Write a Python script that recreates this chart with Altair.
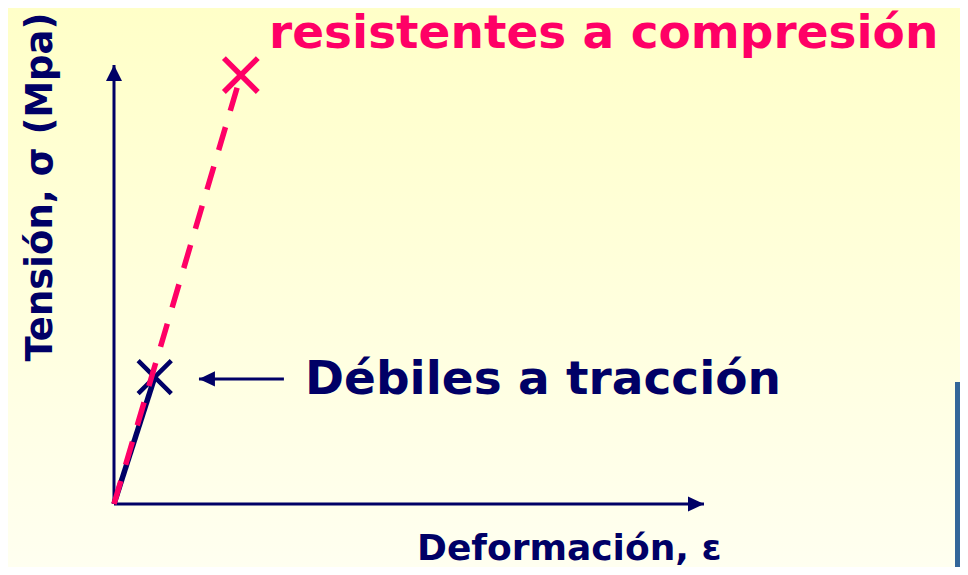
import altair as alt
import pandas as pd

# ---- data ----
# strain / stress in arbitrary units (x: 0..10, y: 0..10)
axis_names = ["x", "y"]
axis_end_x = [10.0, 0.0]
axis_end_y = [0.0, 10.0]

tension_x = [0.0, 0.69]
tension_y = [0.0, 2.89]
compression_x = [0.0, 2.15]
compression_y = [0.0, 9.77]

note_x_start = [2.88]
note_x_tip = [1.44]
note_y = [2.85]

title_text = "resistentes a compresión"
note_text = "Débiles a tracción"
y_title = "Tensión, σ (Mpa)"
x_title = "Deformación, ε"

NAVY = "#000066"
PINK = "#FF0066"

W, H = 952, 559
xs = alt.Scale(domain=[0, 10], range=[106, 696])
ys = alt.Scale(domain=[0, 10], range=[496, 57])

one = pd.DataFrame({"k": [0]})

bg = alt.Chart(one).mark_rect(
    fill=alt.Gradient(
        gradient="linear",
        stops=[alt.GradientStop(color="#FFFFC8", offset=0),
               alt.GradientStop(color="#FFFFF0", offset=1)],
        x1=0, x2=0, y1=0, y2=1,
    )
).encode(x=alt.value(0), x2=alt.value(W), y=alt.value(0), y2=alt.value(H))

axes_df = pd.DataFrame({"axis": axis_names, "x0": [0, 0], "y0": [0, 0],
                        "x1": axis_end_x, "y1": axis_end_y})
axes = alt.Chart(axes_df).mark_rule(color=NAVY, strokeWidth=3).encode(
    x=alt.X("x0:Q", scale=xs, axis=None),
    y=alt.Y("y0:Q", scale=ys, axis=None),
    x2="x1:Q", y2="y1:Q",
)

head_x = alt.Chart(axes_df[axes_df.axis == "x"]).mark_point(
    shape="M0,0L-2,-0.95L-2,0.95Z", size=256, filled=True, fill=NAVY, opacity=1, strokeWidth=0
).encode(x=alt.X("x1:Q", scale=xs), y=alt.Y("y1:Q", scale=ys))

head_y = alt.Chart(axes_df[axes_df.axis == "y"]).mark_point(
    shape="M0,0L-1,2L1,2Z", size=256, filled=True, fill=NAVY, opacity=1, strokeWidth=0
).encode(x=alt.X("x1:Q", scale=xs), y=alt.Y("y1:Q", scale=ys))

ten_df = pd.DataFrame({"x": tension_x, "y": tension_y})
comp_df = pd.DataFrame({"x": compression_x, "y": compression_y})

ten_line = alt.Chart(ten_df).mark_line(color=NAVY, strokeWidth=5.5).encode(
    x=alt.X("x:Q", scale=xs), y=alt.Y("y:Q", scale=ys))
ten_mark = alt.Chart(ten_df.iloc[[1]]).mark_point(
    shape="M-1,-1L1,1M1,-1L-1,1", size=1100, filled=False, stroke=NAVY,
    strokeWidth=4.5, opacity=1
).encode(x=alt.X("x:Q", scale=xs), y=alt.Y("y:Q", scale=ys))

comp_line = alt.Chart(comp_df).mark_line(color=PINK, strokeWidth=5.5, strokeDash=[24, 17]).encode(
    x=alt.X("x:Q", scale=xs), y=alt.Y("y:Q", scale=ys))
comp_mark = alt.Chart(comp_df.iloc[[1]]).mark_point(
    shape="M-1,-1L1,1M1,-1L-1,1", size=1150, filled=False, stroke=PINK,
    strokeWidth=5.5, opacity=1
).encode(x=alt.X("x:Q", scale=xs), y=alt.Y("y:Q", scale=ys))

note_df = pd.DataFrame({"xs": note_x_start, "xt": note_x_tip, "y": note_y})
note_line = alt.Chart(note_df).mark_rule(color=NAVY, strokeWidth=3).encode(
    x=alt.X("xs:Q", scale=xs), x2="xt:Q", y=alt.Y("y:Q", scale=ys))
note_head = alt.Chart(note_df).mark_point(
    shape="M0,0L2,-0.95L2,0.95Z", size=256, filled=True, fill=NAVY, opacity=1, strokeWidth=0
).encode(x=alt.X("xt:Q", scale=xs), y=alt.Y("y:Q", scale=ys))

FONT = "DejaVu Sans"
title = alt.Chart(one).mark_text(
    text=title_text, font=FONT, fontWeight="bold", fontSize=47, color=PINK,
    align="left", baseline="alphabetic"
).encode(x=alt.value(261), y=alt.value(40))

note = alt.Chart(one).mark_text(
    text=note_text, font=FONT, fontWeight="bold", fontSize=47, color=NAVY,
    align="left", baseline="alphabetic"
).encode(x=alt.value(297), y=alt.value(386))

ytitle = alt.Chart(one).mark_text(
    text=y_title, font=FONT, fontWeight="bold", fontSize=37, color=NAVY,
    align="center", baseline="alphabetic", angle=270
).encode(x=alt.value(44), y=alt.value(179))

xtitle = alt.Chart(one).mark_text(
    text=x_title, font=FONT, fontWeight="bold", fontSize=36, color=NAVY,
    align="left", baseline="alphabetic"
).encode(x=alt.value(409), y=alt.value(552))

bar = alt.Chart(one).mark_rect(color="#336699").encode(
    x=alt.value(947), x2=alt.value(952), y=alt.value(374), y2=alt.value(H))

chart = alt.layer(
    bg, axes, head_x, head_y, note_line, note_head,
    ten_line, ten_mark, comp_line, comp_mark,
    title, note, ytitle, xtitle, bar
).properties(
    width=W, height=H, padding=0, autosize=alt.AutoSizeParams(type="none"),
    background="#FFFFE0"
).configure_view(stroke=None)

chart.save("out.html", embed_options={"renderer": "svg", "actions": False})
